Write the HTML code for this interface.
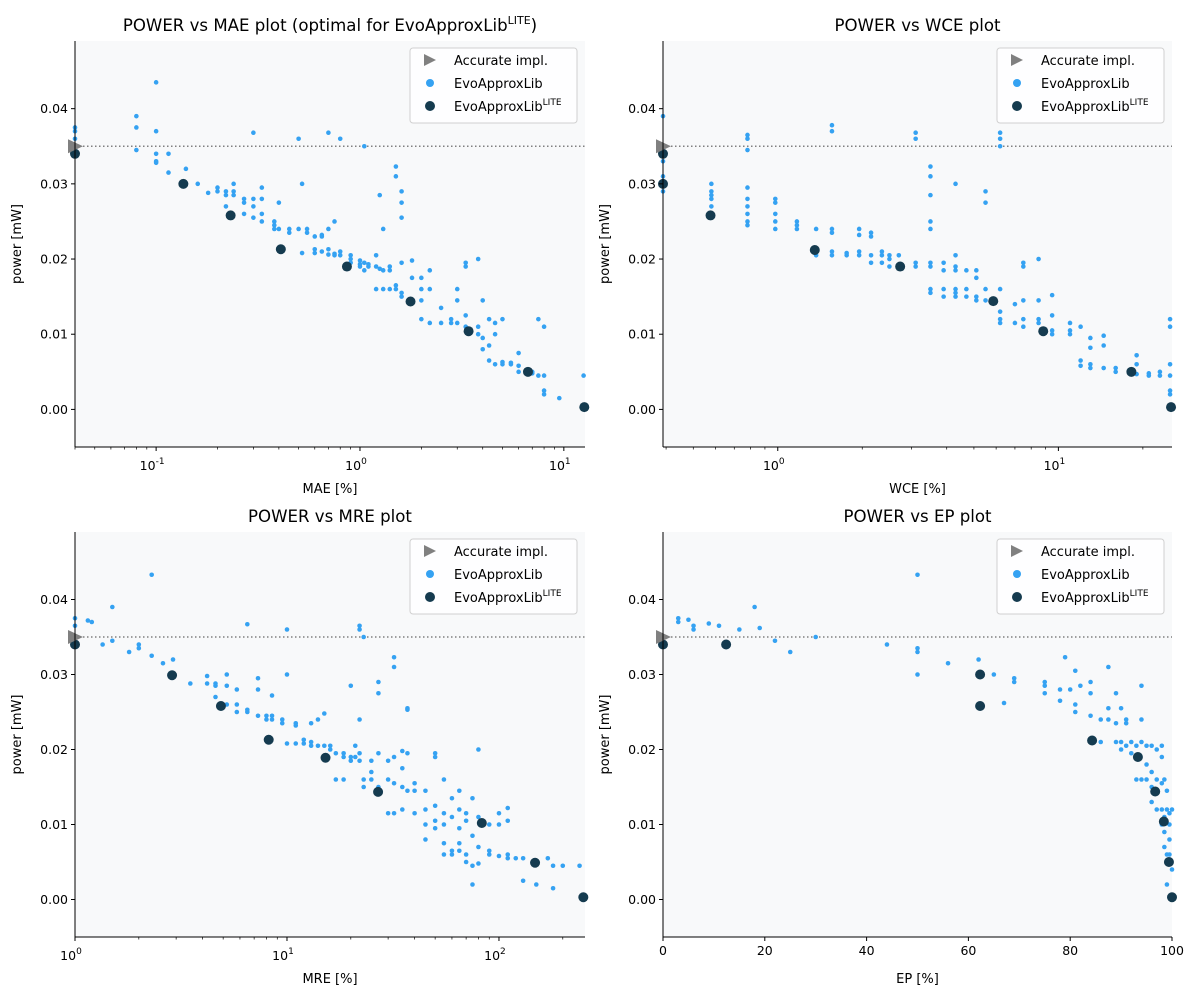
<!DOCTYPE html>
<html><head><meta charset="utf-8">
<style>
html,body{margin:0;padding:0;background:#fff;}
svg{display:block;font-family:"DejaVu Sans","Liberation Sans",sans-serif;}
</style></head>
<body>
<svg id="c" width="1200" height="1000" xmlns="http://www.w3.org/2000/svg"></svg>
<script>
// ---- Data ----
const maeBlue = [[0.04,0.0375],[0.04,0.037],[0.04,0.036],[0.04,0.035],[0.04,0.0345],[0.08,0.039],[0.08,0.0375],[0.08,0.0345],[0.1,0.0435],[0.1,0.037],[0.1,0.034],[0.1,0.033],[0.1,0.0328],[0.115,0.034],[0.115,0.0315],[0.14,0.032],[0.14,0.030],[0.16,0.030],[0.18,0.0288],[0.2,0.029],[0.2,0.0295],[0.22,0.029],[0.22,0.0285],[0.22,0.027],[0.24,0.0285],[0.24,0.029],[0.24,0.030],[0.27,0.0275],[0.27,0.028],[0.27,0.026],[0.3,0.028],[0.3,0.027],[0.3,0.0368],[0.3,0.0255],[0.33,0.0295],[0.33,0.028],[0.33,0.026],[0.33,0.025],[0.38,0.025],[0.38,0.0245],[0.38,0.024],[0.4,0.0275],[0.4,0.024],[0.45,0.024],[0.45,0.0235],[0.5,0.036],[0.5,0.024],[0.52,0.030],[0.52,0.0208],[0.55,0.024],[0.55,0.0235],[0.6,0.023],[0.6,0.0208],[0.6,0.0213],[0.65,0.0232],[0.65,0.023],[0.65,0.021],[0.7,0.0368],[0.7,0.0206],[0.7,0.024],[0.7,0.0213],[0.75,0.025],[0.75,0.0207],[0.75,0.0205],[0.8,0.036],[0.8,0.021],[0.8,0.0205],[0.9,0.0205],[0.9,0.020],[0.9,0.0195],[1.0,0.0198],[1.0,0.0193],[1.0,0.019],[1.05,0.035],[1.05,0.0195],[1.05,0.0185],[1.1,0.019],[1.1,0.0193],[1.2,0.0205],[1.2,0.019],[1.2,0.016],[1.25,0.0285],[1.25,0.0187],[1.3,0.024],[1.3,0.0185],[1.3,0.016],[1.4,0.019],[1.4,0.0185],[1.4,0.016],[1.5,0.0323],[1.5,0.031],[1.5,0.0165],[1.5,0.016],[1.6,0.029],[1.6,0.0275],[1.6,0.0255],[1.6,0.0195],[1.6,0.0155],[1.6,0.015],[1.8,0.0198],[1.8,0.0175],[1.8,0.0145],[2.0,0.0175],[2.0,0.016],[2.0,0.0145],[2.0,0.012],[2.2,0.0185],[2.2,0.016],[2.2,0.0115],[2.5,0.0135],[2.5,0.0115],[2.8,0.012],[2.8,0.0115],[3.0,0.0145],[3.0,0.016],[3.0,0.0115],[3.3,0.0195],[3.3,0.019],[3.3,0.0125],[3.3,0.011],[3.8,0.02],[3.8,0.011],[3.8,0.01],[4.0,0.0145],[4.0,0.0095],[4.0,0.008],[4.3,0.012],[4.3,0.0085],[4.3,0.0065],[4.6,0.0115],[4.6,0.01],[4.6,0.006],[5.0,0.012],[5.0,0.0063],[5.0,0.006],[5.5,0.0062],[5.5,0.006],[6,0.0075],[6,0.0058],[6,0.005],[7,0.005],[7,0.0048],[7.5,0.012],[7.5,0.0045],[8,0.011],[8,0.0045],[8,0.0025],[8,0.002],[9.5,0.0015],[12.5,0.0045]];
const maeLite = [[0.04,0.034],[0.136,0.030],[0.232,0.0258],[0.409,0.0213],[0.863,0.019],[1.77,0.01435],[3.41,0.0104],[6.67,0.005],[12.6,0.0003]];

const wceBlue = [[0.39,0.039],[0.39,0.035],[0.39,0.033],[0.39,0.031],[0.39,0.029],[0.58,0.030],[0.58,0.029],[0.58,0.0285],[0.58,0.028],[0.58,0.027],[0.78,0.0365],[0.78,0.036],[0.78,0.0345],[0.78,0.0295],[0.78,0.028],[0.78,0.027],[0.78,0.026],[0.78,0.025],[0.78,0.0245],[0.98,0.028],[0.98,0.0275],[0.98,0.026],[0.98,0.025],[0.98,0.024],[1.17,0.025],[1.17,0.0245],[1.17,0.024],[1.37,0.024],[1.37,0.0205],[1.56,0.0378],[1.56,0.037],[1.56,0.024],[1.56,0.0235],[1.56,0.021],[1.56,0.0205],[1.76,0.0205],[1.76,0.0208],[1.95,0.024],[1.95,0.0232],[1.95,0.021],[1.95,0.0205],[2.15,0.0235],[2.15,0.023],[2.15,0.0205],[2.15,0.0195],[2.35,0.021],[2.35,0.0205],[2.35,0.0195],[2.5,0.0205],[2.5,0.02],[2.5,0.019],[2.7,0.0205],[2.7,0.019],[3.1,0.0368],[3.1,0.036],[3.1,0.0195],[3.1,0.019],[3.5,0.0323],[3.5,0.031],[3.5,0.0285],[3.5,0.025],[3.5,0.024],[3.5,0.0195],[3.5,0.019],[3.5,0.016],[3.5,0.0155],[3.9,0.0195],[3.9,0.0185],[3.9,0.016],[3.9,0.015],[4.3,0.030],[4.3,0.0205],[4.3,0.019],[4.3,0.0185],[4.3,0.016],[4.3,0.0155],[4.3,0.015],[4.7,0.0185],[4.7,0.016],[4.7,0.015],[5.1,0.0185],[5.1,0.0175],[5.1,0.015],[5.1,0.0145],[5.5,0.029],[5.5,0.0275],[5.5,0.016],[5.5,0.0145],[6.2,0.0368],[6.2,0.036],[6.2,0.035],[6.2,0.016],[6.2,0.013],[6.2,0.012],[6.2,0.0115],[7,0.014],[7,0.0115],[7.5,0.0195],[7.5,0.019],[7.5,0.0145],[7.5,0.012],[7.5,0.011],[8.5,0.020],[8.5,0.0145],[8.5,0.012],[8.5,0.0115],[9.5,0.0152],[9.5,0.0125],[9.5,0.0105],[9.5,0.010],[11,0.0115],[11,0.0105],[11,0.010],[12,0.011],[12,0.0065],[12,0.0058],[13,0.0095],[13,0.0082],[13,0.006],[13,0.0055],[14.5,0.0098],[14.5,0.0085],[14.5,0.0055],[16,0.0055],[16,0.005],[19,0.0072],[19,0.006],[19,0.0047],[21,0.0048],[21,0.0045],[23,0.005],[23,0.0045],[25,0.012],[25,0.011],[25,0.006],[25,0.0045],[25,0.0025],[25,0.002]];
const wceLite = [[0.39,0.034],[0.39,0.030],[0.576,0.0258],[1.355,0.0212],[2.73,0.019],[5.86,0.0144],[8.83,0.0104],[18.2,0.005],[25.2,0.0003]];

const mreBlue = [[1.0,0.0375],[1.0,0.0365],[1.2,0.037],[1.15,0.0372],[1.35,0.034],[1.5,0.039],[1.5,0.0345],[1.8,0.033],[2.0,0.0335],[2.0,0.034],[2.3,0.0433],[2.3,0.0325],[2.6,0.0315],[2.9,0.032],[2.9,0.030],[3.5,0.0288],[4.2,0.0298],[4.2,0.0288],[4.6,0.0288],[4.6,0.0285],[4.6,0.027],[5.2,0.030],[5.2,0.0285],[5.2,0.026],[5.8,0.028],[5.8,0.026],[5.8,0.025],[6.5,0.0367],[6.5,0.025],[6.5,0.0253],[7.3,0.0295],[7.3,0.028],[7.3,0.0245],[8,0.0245],[8,0.024],[8.5,0.0272],[8.5,0.0245],[8.5,0.024],[9.5,0.024],[9.5,0.0235],[10,0.036],[10,0.030],[10,0.0208],[11,0.0235],[11,0.0232],[11,0.0208],[12,0.0213],[12,0.0208],[13,0.021],[13,0.0205],[13,0.0235],[14,0.024],[14,0.0205],[15,0.0248],[15,0.0205],[16,0.0205],[16,0.02],[17,0.016],[17,0.0195],[18.5,0.0195],[18.5,0.019],[18.5,0.016],[20,0.0285],[20,0.019],[20,0.0185],[21,0.0205],[21,0.019],[22,0.036],[22,0.0365],[22,0.024],[22,0.0195],[22,0.0185],[23,0.035],[23,0.016],[23,0.015],[25,0.0185],[25,0.017],[25,0.016],[27,0.0275],[27,0.029],[27,0.0195],[27,0.015],[30,0.0185],[30,0.016],[30,0.0115],[32,0.0323],[32,0.031],[32,0.019],[32,0.0155],[32,0.0115],[35,0.0198],[35,0.0175],[35,0.015],[35,0.012],[37,0.0255],[37,0.0253],[37,0.0195],[37,0.0145],[40,0.0155],[40,0.0145],[40,0.0115],[45,0.0145],[45,0.012],[45,0.010],[45,0.008],[50,0.0195],[50,0.019],[50,0.0125],[50,0.0105],[50,0.0095],[55,0.016],[55,0.0115],[55,0.010],[55,0.0075],[55,0.006],[60,0.0135],[60,0.011],[60,0.0065],[60,0.006],[65,0.0145],[65,0.012],[65,0.0095],[65,0.0075],[65,0.0065],[70,0.0115],[70,0.0105],[70,0.006],[70,0.005],[75,0.0135],[75,0.0085],[75,0.0045],[75,0.002],[80,0.02],[80,0.011],[80,0.007],[80,0.0048],[90,0.0065],[90,0.006],[90,0.01],[100,0.0115],[100,0.01],[100,0.0058],[110,0.0122],[110,0.0105],[110,0.006],[110,0.0055],[120,0.0055],[130,0.0025],[130,0.0055],[150,0.0048],[150,0.002],[170,0.0055],[180,0.0045],[180,0.0015],[200,0.0045],[240,0.0045]];
const mreLite = [[1.0,0.034],[2.87,0.0299],[4.88,0.0258],[8.2,0.0213],[15.2,0.0189],[26.9,0.01435],[83,0.0102],[148,0.0049],[250,0.0003]];

const epBlue = [[3,0.0375],[3,0.037],[5,0.0373],[6,0.0365],[6,0.036],[9,0.0368],[11,0.0365],[15,0.036],[18,0.039],[19,0.0362],[22,0.0345],[25,0.033],[30,0.035],[44,0.034],[50,0.0433],[50,0.0335],[50,0.033],[50,0.030],[56,0.0315],[62,0.032],[65,0.030],[67,0.0262],[69,0.0295],[69,0.029],[75,0.029],[75,0.0285],[75,0.0275],[78,0.028],[78,0.0265],[79,0.0323],[80,0.028],[81,0.0305],[81,0.026],[81,0.025],[82,0.0285],[84,0.029],[84,0.0275],[84,0.0245],[86,0.024],[86,0.021],[87.5,0.031],[87.5,0.0255],[87.5,0.024],[89,0.0275],[89,0.0235],[89,0.021],[90,0.0255],[90,0.021],[90,0.020],[91,0.024],[91,0.0235],[91,0.0205],[92,0.021],[92,0.0195],[93,0.0205],[93,0.019],[93,0.016],[94,0.0285],[94,0.024],[94,0.021],[94,0.016],[95,0.0205],[95,0.018],[95,0.016],[96,0.0205],[96,0.017],[96,0.015],[96,0.013],[97,0.02],[97,0.016],[97,0.0145],[97,0.012],[98,0.0205],[98,0.019],[98,0.0155],[98,0.012],[98,0.010],[98.5,0.016],[98.5,0.011],[98.5,0.009],[98.5,0.007],[99,0.0145],[99,0.012],[99,0.006],[99,0.005],[99,0.002],[99.5,0.0115],[99.5,0.01],[99.5,0.008],[99.5,0.006],[100,0.012],[100,0.004]];
const epLite = [[0,0.034],[12.4,0.034],[62.3,0.030],[62.3,0.0258],[84.3,0.0212],[93.3,0.019],[96.7,0.0144],[98.4,0.0104],[99.4,0.005],[100,0.0003]];

const yTicks = [0.00,0.01,0.02,0.03,0.04];
const accuratePower = 0.035;
const epTicks = [0,20,40,60,80,100];

// ---- Drawing ----
const NS = "http://www.w3.org/2000/svg";
const svg = document.getElementById('c');
function mk(tag, attrs, parent, text){
  const e = document.createElementNS(NS, tag);
  for (const k in attrs) e.setAttribute(k, attrs[k]);
  if (text !== undefined) e.textContent = text;
  (parent||svg).appendChild(e);
  return e;
}
const BLUE = "#35a2f2", DARK = "#153b4f", GREY = "#808080";

function panel(cfg){
  const {L,R,T,B,x0,x1,log,title,xlabel,blue,lite,name} = cfg;
  const y0=-0.005, y1=0.049;
  const yPx = v => B - (v - y0)/(y1 - y0)*(B - T);
  const xPx = log ? (v => L + (Math.log10(v)-Math.log10(x0))/(Math.log10(x1)-Math.log10(x0))*(R-L))
                  : (v => L + (v-x0)/(x1-x0)*(R-L));
  const g = mk('g',{});
  
  
  const bg = mk('rect',{x:L,y:T,width:R-L,height:B-T,fill:'#f8f9fa'},g);
  
  
  const dl = mk('line',{x1:L,x2:R,y1:yPx(accuratePower),y2:yPx(accuratePower),stroke:GREY,'stroke-width':1.5,'stroke-dasharray':'1.5,2.5'},g);
  
  
  for (const p of blue){
    const c = mk('circle',{cx:xPx(p[0]),cy:yPx(p[1]),r:2.3,fill:BLUE},g);
    
    
  }
  for (const p of lite){
    const c = mk('circle',{cx:xPx(p[0]),cy:yPx(p[1]),r:5,fill:DARK},g);
    
    
  }
  const ty = yPx(accuratePower);
  const tri = mk('polygon',{points:`${L-7},${ty-7} ${L+8},${ty} ${L-7},${ty+7}`,fill:GREY},g);
  
  
  mk('line',{x1:L,x2:L,y1:T,y2:B,stroke:'#000','stroke-width':1},g);
  mk('line',{x1:L,x2:R,y1:B,y2:B,stroke:'#000','stroke-width':1},g);
  for (const v of yTicks){
    const y = yPx(v);
    mk('line',{x1:L-4,x2:L,y1:y,y2:y,stroke:'#000'},g);
    const t = mk('text',{x:L-7,y:y+4.5,'text-anchor':'end','font-size':12.5},g,v.toFixed(2));
    
    
  }
  if (log){
    const dmin = Math.floor(Math.log10(x0)), dmax = Math.ceil(Math.log10(x1));
    for (let d=dmin; d<=dmax; d++){
      for (let m=1;m<10;m++){
        const v = m*Math.pow(10,d);
        if (v < x0*0.999 || v > x1*1.001) continue;
        const x = xPx(v);
        mk('line',{x1:x,x2:x,y1:B,y2:B+(m===1?4:2.5),stroke:'#000','stroke-width':m===1?1:0.7},g);
        if (m===1){
          const t = mk('text',{x:x-4,y:B+23,'text-anchor':'middle','font-size':12.5},g,'10');
          mk('tspan',{dy:-6,'font-size':9},t,String(d));
          
          
        }
      }
    }
  } else {
    for (const v of epTicks){
      const x = xPx(v);
      mk('line',{x1:x,x2:x,y1:B,y2:B+4,stroke:'#000'},g);
      const t = mk('text',{x:x,y:B+18,'text-anchor':'middle','font-size':12.5},g,String(v));
      
      
    }
  }
  const xl = mk('text',{x:(L+R)/2,y:B+46,'text-anchor':'middle','font-size':13},g,xlabel);
  
  
  const yl = mk('text',{x:0,y:0,'text-anchor':'middle','font-size':13,transform:`translate(${L-54},${(T+B)/2}) rotate(-90)`},g,'power [mW]');
  
  
  const tt = mk('text',{x:(L+R)/2,y:T-10,'text-anchor':'middle','font-size':16.6},g,title);
  if (cfg.titleSup){ mk('tspan',{dy:-7,'font-size':11},tt,'LITE'); mk('tspan',{dy:7},tt,')'); }
  
  
  const lx = R-175, ly = T+7;
  const lg = mk('g',{},g);
  
  
  mk('rect',{x:lx,y:ly,width:167,height:75,rx:3,fill:'#fff','fill-opacity':0.85,stroke:'#d0d0d0'},lg);
  mk('polygon',{points:`${lx+14},${ly+6} ${lx+26},${ly+12} ${lx+14},${ly+18}`,fill:GREY},lg);
  const a=mk('text',{x:lx+44,y:ly+17,'font-size':13},lg,'Accurate impl.');
  
  
  mk('circle',{cx:lx+20,cy:ly+35,r:4,fill:BLUE},lg);
  const b=mk('text',{x:lx+44,y:ly+40,'font-size':13},lg,'EvoApproxLib');
  
  
  mk('circle',{cx:lx+20,cy:ly+58,r:5,fill:DARK},lg);
  const c=mk('text',{x:lx+44,y:ly+63,'font-size':13},lg,'EvoApproxLib');
  mk('tspan',{dy:-6,'font-size':9},c,'LITE');
  
  
}

panel({name:'mae-panel',L:75,R:585,T:41,B:447,x0:0.04,x1:12.7,log:true,title:'POWER vs MAE plot (optimal for EvoApproxLib',titleSup:true,xlabel:'MAE [%]',blue:maeBlue,lite:maeLite});
panel({name:'wce-panel',L:663,R:1172,T:41,B:447,x0:0.39,x1:25.4,log:true,title:'POWER vs WCE plot',xlabel:'WCE [%]',blue:wceBlue,lite:wceLite});
panel({name:'mre-panel',L:75,R:585,T:532,B:937,x0:1,x1:254.6,log:true,title:'POWER vs MRE plot',xlabel:'MRE [%]',blue:mreBlue,lite:mreLite});
panel({name:'ep-panel',L:663,R:1172,T:532,B:937,x0:0,x1:100,log:false,title:'POWER vs EP plot',xlabel:'EP [%]',blue:epBlue,lite:epLite});
</script>
</body></html>
